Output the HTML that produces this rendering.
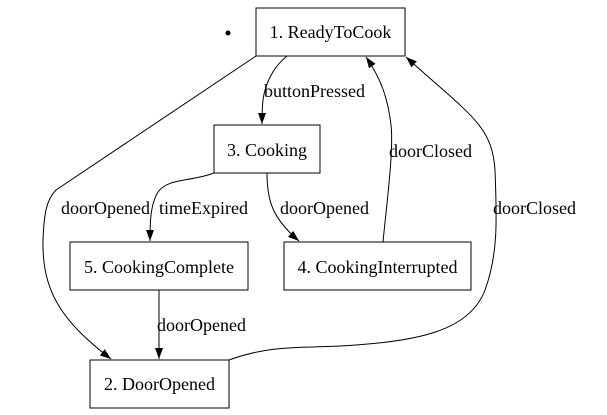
<!DOCTYPE html>
<html><head><style>body{margin:0;background:#fff}svg{display:block}
svg text{font-family:"Liberation Serif","DejaVu Serif",serif;font-size:18px;fill:#000}</style></head>
<body>
<svg width="607" height="415" viewBox="0 0 607 415">
<defs><marker id="a" markerWidth="12" markerHeight="12" refX="11" refY="5" orient="auto" markerUnits="userSpaceOnUse"><path d="M0,1 L11,5 L0,9 Z" fill="#000"/></marker></defs>
<g fill="none" stroke="#000" stroke-width="1">
<rect x="256" y="8" width="149" height="48"/>
<rect x="214" y="125" width="106" height="48"/>
<rect x="70" y="242" width="178" height="48"/>
<rect x="284" y="242" width="187" height="48"/>
<rect x="90" y="360" width="139" height="48"/>
<path d="M287,56 C272,68 265,85 263,100 C262,110 262,115 262,124" marker-end="url(#a)"/>
<path d="M256,56 L56,190 C46,200 44,215 43,240 C42,290 60,320 111,359" marker-end="url(#a)"/>
<path d="M214,173 C190,182 168,178 158,192 C150,205 150,225 150,241" marker-end="url(#a)"/>
<path d="M267,173 C267,200 272,218 299,241" marker-end="url(#a)"/>
<path d="M383,242 C386,210 394,150 391,125 C388,100 382,80 366,57" marker-end="url(#a)"/>
<path d="M229,360 C270,345 300,348 340,346 C420,342 470,330 485,290 C498,255 497,220 495,170 C492,125 470,115 406,57" marker-end="url(#a)"/>
<path d="M159,290 L159,359" marker-end="url(#a)"/>
</g>
<circle cx="228" cy="33" r="2.5" fill="#000"/>
<text x="330.5" y="38" text-anchor="middle">1. ReadyToCook</text>
<text x="267" y="156" text-anchor="middle">3. Cooking</text>
<text x="159" y="273" text-anchor="middle">5. CookingComplete</text>
<text x="377.5" y="273" text-anchor="middle">4. CookingInterrupted</text>
<text x="159.5" y="390" text-anchor="middle">2. DoorOpened</text>
<text x="264" y="97">buttonPressed</text>
<text x="61" y="214">doorOpened</text>
<text x="159" y="214">timeExpired</text>
<text x="280" y="214">doorOpened</text>
<text x="389" y="157">doorClosed</text>
<text x="493" y="214">doorClosed</text>
<text x="157" y="331">doorOpened</text>
</svg>
</body></html>
